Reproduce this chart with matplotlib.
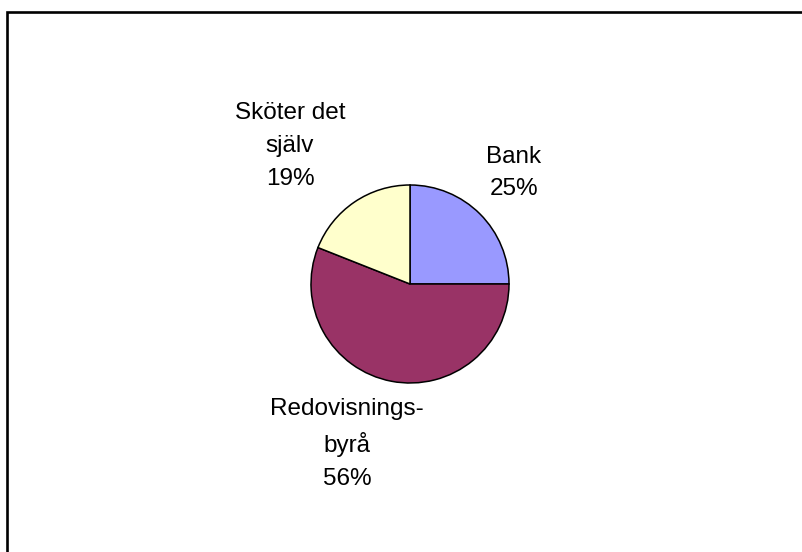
import matplotlib
matplotlib.use("Agg")
import matplotlib.pyplot as plt
from matplotlib.patches import Rectangle

# Andel per kategori (procent)
kategorier = ["Bank", "Redovisnings-\nbyrå", "Sköter det\nsjälv"]
andelar = [25, 56, 19]
farger = ["#9999FF", "#993366", "#FFFFCC"]

# Etikettplacering i pixlar (y uppåt)
etikett_pos = [(514, 379), (347, 108), (290, 406)]

plt.rcParams["font.family"] = ["Liberation Sans", "DejaVu Sans"]

fig = plt.figure(figsize=(8.03, 5.52), dpi=100)
ax = fig.add_axes([0, 0, 1, 1])

# Ram runt diagramytan
ram = Rectangle((7.5, -20), 900, 560.5, fill=False, edgecolor="black", linewidth=1.9)
ax.add_patch(ram)

wedges, _ = ax.pie(andelar, colors=farger, startangle=90, counterclock=False,
                   center=(410, 268), radius=99, frame=True,
                   wedgeprops=dict(edgecolor="black", linewidth=1.1))
ax.set_xlim(0, 803)
ax.set_ylim(0, 552)
ax.set_aspect("equal")
ax.axis("off")

totalt = sum(andelar)
for namn, varde, (x, y) in zip(kategorier, andelar, etikett_pos):
    ax.text(x, y, f"{namn}\n{round(varde / totalt * 100)}%", ha="center", va="center",
            fontsize=17.5, linespacing=1.62, multialignment="center")

fig.savefig("out.png", dpi=100)
